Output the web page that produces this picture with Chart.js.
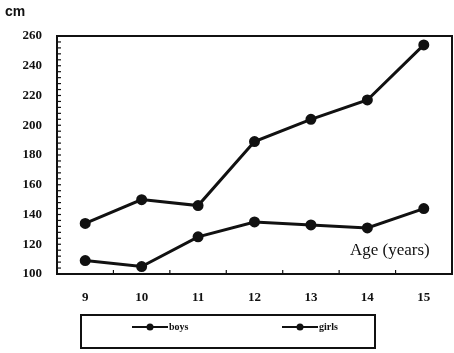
<!DOCTYPE html>
<html>
<head>
<meta charset="utf-8">
<script src="https://cdn.jsdelivr.net/npm/chart.js@4/dist/chart.umd.min.js"></script>
<style>
html,body{margin:0;padding:0;background:#fff;}
#wrap{position:relative;width:454px;height:353px;}
</style>
</head>
<body>
<div id="wrap"><canvas id="c" width="454" height="353"></canvas></div>
<script>
const ages = ['9','10','11','12','13','14','15'];
const boys = [134, 150, 146, 189, 204, 217, 254];
const girls = [109, 105, 125, 135, 133, 131, 144];
const yTicks = [100, 120, 140, 160, 180, 200, 220, 240, 260];
const yUnit = 'cm';
const xTitle = 'Age (years)';

const INK = '#111';

const decor = {
  id: 'decor',
  afterDraw(chart) {
    const ctx = chart.ctx;
    const a = chart.chartArea;
    const xs = chart.scales.x, ys = chart.scales.y;
    ctx.save();
    ctx.strokeStyle = INK;
    ctx.lineWidth = 2;
    ctx.strokeRect(a.left, a.top, a.right - a.left, a.bottom - a.top);
    // y minor ticks (inward)
    ctx.lineWidth = 1.2;
    for (let v = 100; v <= 260; v += 4) {
      const y = ys.getPixelForValue(v);
      ctx.beginPath(); ctx.moveTo(a.left, y); ctx.lineTo(a.left + 4, y); ctx.stroke();
    }
    // x ticks between categories (inward)
    for (let i = 0; i < ages.length - 1; i++) {
      const x = (xs.getPixelForValue(i) + xs.getPixelForValue(i + 1)) / 2;
      ctx.beginPath(); ctx.moveTo(x, a.bottom); ctx.lineTo(x, a.bottom - 4); ctx.stroke();
    }
    // unit label
    ctx.fillStyle = INK;
    ctx.font = 'bold 14px "Liberation Sans", Arial, sans-serif';
    ctx.textAlign = 'left'; ctx.textBaseline = 'middle';
    ctx.fillText(yUnit, 5, 12);
    // axis title inside plot
    ctx.font = '17px "Liberation Serif", "Times New Roman", serif';
    ctx.textAlign = 'right';
    ctx.fillText(xTitle, xs.getPixelForValue(ages.length - 1) + 6, ys.getPixelForValue(116));
    // legend
    ctx.lineWidth = 2;
    ctx.strokeRect(81, 315, 294, 33);
    const ly = 327;
    const starts = [132, 282];
    chart.data.datasets.forEach((ds, i) => {
      const x0 = starts[i];
      ctx.lineWidth = 2;
      ctx.beginPath(); ctx.moveTo(x0, ly); ctx.lineTo(x0 + 36, ly); ctx.stroke();
      ctx.beginPath(); ctx.arc(x0 + 18, ly, 3.5, 0, Math.PI * 2); ctx.fill();
      ctx.font = 'bold 10px "Liberation Serif", "Times New Roman", serif';
      ctx.textAlign = 'left';
      ctx.fillText(ds.label, x0 + 37, ly);
    });
    ctx.restore();
  }
};

new Chart(document.getElementById('c'), {
  type: 'line',
  data: {
    labels: ages,
    datasets: [
      { label: 'boys', data: boys, borderColor: INK, backgroundColor: INK, borderWidth: 3,
        pointRadius: 4, pointBackgroundColor: INK, pointBorderColor: INK, tension: 0 },
      { label: 'girls', data: girls, borderColor: INK, backgroundColor: INK, borderWidth: 3,
        pointRadius: 4, pointBackgroundColor: INK, pointBorderColor: INK, tension: 0 }
    ]
  },
  options: {
    responsive: false,
    animation: false,
    layout: { autoPadding: false, padding: { left: 0, top: 36, right: 2, bottom: 0 } },
    plugins: { legend: { display: false }, tooltip: { enabled: false } },
    scales: {
      x: {
        type: 'category',
        offset: true,
        grid: { display: false, drawTicks: false },
        border: { display: false },
        ticks: { color: INK, padding: 16, font: { family: '"Liberation Serif", "Times New Roman", serif', size: 13, weight: 'bold' } },
        afterFit(s) { s.height = 79; }
      },
      y: {
        min: 100, max: 260,
        afterBuildTicks(s) { s.ticks = yTicks.map(v => ({ value: v })); },
        grid: { display: false, drawTicks: false },
        border: { display: false },
        ticks: { color: INK, padding: 15, font: { family: '"Liberation Serif", "Times New Roman", serif', size: 13, weight: 'bold' } },
        afterFit(s) { s.width = 57; }
      }
    }
  },
  plugins: [decor]
});
</script>
</body>
</html>
